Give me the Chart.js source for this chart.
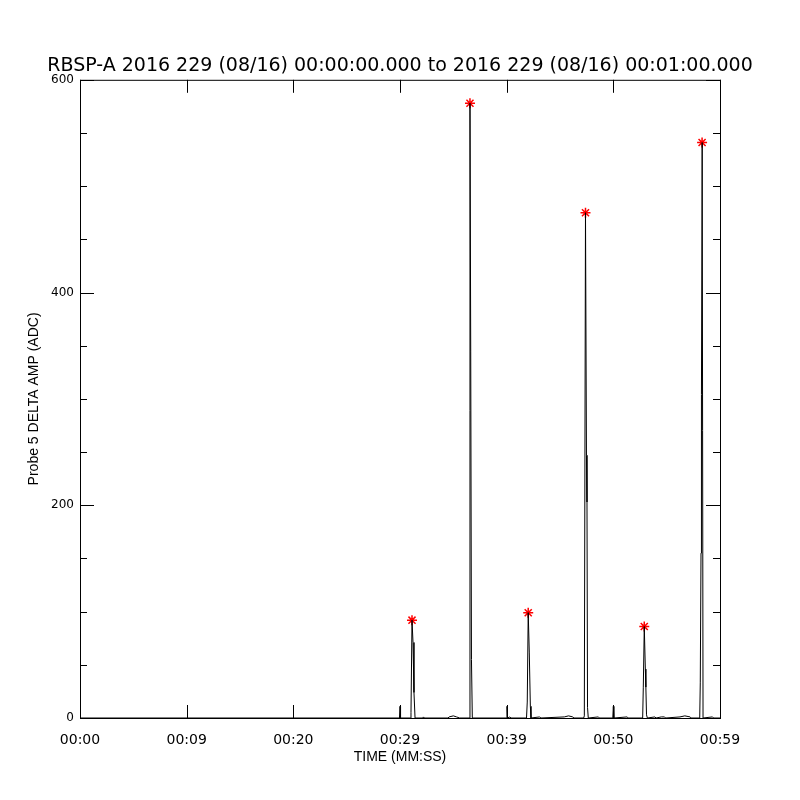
<!DOCTYPE html>
<html>
<head>
<meta charset="utf-8">
<script src="https://cdn.jsdelivr.net/npm/chart.js@4.4.1/dist/chart.umd.min.js"></script>
<style>
  body { margin: 0; background: #fff; }
</style>
</head>
<body>
<canvas id="probeChart" width="800" height="800"></canvas>
<script>
const titleText = "RBSP-A 2016 229 (08/16) 00:00:00.000 to 2016 229 (08/16) 00:01:00.000";
const xTickLabels = ["00:00", "00:09", "00:20", "00:29", "00:39", "00:50", "00:59"];

// seconds from 00:00:00 and probe amplitude (ADC)
const timeSec = [
  0, 29.95, 30.00, 30.05,
  30.97, 31.03, 31.125, 31.22, 31.31, 31.41,
  32.15, 32.2, 32.3,
  34.5, 34.6, 35.0, 35.3, 35.6,
  36.47, 36.56, 36.63, 36.70, 36.78,
  39.98, 40.03, 40.08, 40.3, 40.4,
  41.86, 41.93, 42.02, 42.12, 42.22, 42.28,
  43.1, 43.2,
  45.4, 45.8, 46.2, 46.3,
  47.22, 47.28, 47.39, 47.48, 47.53, 47.58, 47.65,
  48.6, 48.7,
  49.95, 50.00, 50.05,
  51.3, 51.4,
  52.75, 52.81, 52.90, 53.00, 53.05, 53.11, 53.19,
  53.9, 54.0, 54.5, 54.8, 54.9,
  56.25, 56.7, 57.2, 57.3,
  58.10, 58.15, 58.22, 58.26, 58.33, 58.41,
  59.3, 59.4, 60
];
const amplitude = [
  0, 0, 11, 0,
  0, 5, 92, 71, 24, 0,
  0, 1, 0,
  0, 1, 2, 1, 0,
  0, 578, 345, 55, 0,
  0, 11, 0, 1, 0,
  0, 15, 99, 62, 11, 0,
  1, 0,
  1, 2, 1, 0,
  0, 2, 475, 247, 203, 10, 0,
  1, 0,
  0, 11, 0,
  1, 0,
  0, 29, 86, 46, 29, 3, 0,
  1, 0, 1, 1, 0,
  1, 2, 1, 0,
  0, 33, 155, 304, 541, 0,
  1, 0, 0
];

// flagged peaks (red asterisks)
const peakTimes = [31.125, 36.56, 42.02, 47.39, 52.90, 58.32];
const peakAmps = [92, 578, 99, 475, 86, 541];

const linePoints = timeSec.map((t, i) => ({ x: t, y: amplitude[i] }));
const peakPoints = peakTimes.map((t, i) => ({ x: t, y: peakAmps[i] }));

// IDL style box with inward ticks on all four sides
const boxTicks = {
  id: "boxTicks",
  afterDatasetsDraw(chart) {
    const { ctx, chartArea: a, scales } = chart;
    ctx.save();
    ctx.strokeStyle = "#000";
    ctx.lineWidth = 1;
    ctx.strokeRect(a.left + 0.5, a.top + 0.5, a.right - a.left, a.bottom - a.top);
    ctx.beginPath();
    for (let v = 0; v <= 60; v += 10) {
      const px = Math.round(scales.x.getPixelForValue(v)) + 0.5;
      ctx.moveTo(px, a.bottom); ctx.lineTo(px, a.bottom - 13);
      ctx.moveTo(px, a.top); ctx.lineTo(px, a.top + 13);
    }
    for (let v = 0; v <= 600; v += 50) {
      const py = Math.round(scales.y.getPixelForValue(v)) + 0.5;
      const len = v % 200 === 0 ? 14 : 7;
      ctx.moveTo(a.left, py); ctx.lineTo(a.left + len, py);
      ctx.moveTo(a.right, py); ctx.lineTo(a.right - len, py);
    }
    ctx.stroke();
    ctx.restore();
  }
};

const ctx = document.getElementById("probeChart").getContext("2d");
new Chart(ctx, {
  type: "line",
  data: {
    datasets: [
      {
        data: linePoints,
        borderColor: "#000",
        borderWidth: 1,
        pointRadius: 0,
        tension: 0,
        fill: false,
      },
      {
        type: "scatter",
        data: peakPoints,
        pointStyle: "star",
        pointRadius: 5,
        borderColor: "#ff0000",
        backgroundColor: "#ff0000",
        borderWidth: 1.5,
        showLine: false,
      },
    ],
  },
  options: {
    responsive: false,
    animation: false,
    layout: { padding: 0 },
    plugins: {
      legend: { display: false },
      tooltip: { enabled: false },
      title: {
        display: true,
        text: titleText,
        color: "#000",
        font: { family: "DejaVu Sans", size: 19, weight: "normal" },
        padding: { top: 55, bottom: 2 },
      },
    },
    scales: {
      x: {
        type: "linear",
        min: 0,
        max: 60,
        grid: { display: false, drawTicks: false },
        border: { display: false },
        ticks: {
          stepSize: 10,
          autoSkip: false,
          maxRotation: 0,
          padding: 14,
          color: "#000",
          font: { family: "DejaVu Sans", size: 14 },
          callback: (v, i) => xTickLabels[i],
        },
        title: {
          display: true,
          text: "TIME (MM:SS)",
          color: "#000",
          font: { family: "Liberation Sans", size: 14 },
          padding: { top: 0, bottom: 34 },
        },
        afterFit: (s) => { s.height = 82; s.paddingLeft = 0; s.paddingRight = 0; },
      },
      y: {
        min: 0,
        max: 600,
        grid: { display: false, drawTicks: false },
        border: { display: false },
        ticks: {
          stepSize: 200,
          padding: 6,
          color: "#000",
          font: { family: "DejaVu Sans", size: 12 },
        },
        title: {
          display: true,
          text: "Probe 5 DELTA AMP (ADC)",
          color: "#000",
          font: { family: "Liberation Sans", size: 14 },
          padding: { top: 26, bottom: 0 },
        },
        afterFit: (s) => { s.width = 80; s.paddingTop = 0; s.paddingBottom = 0; },
      },
      // empty right margin so the title centres on the page
      yRight: {
        position: "right",
        display: true,
        min: 0,
        max: 600,
        grid: { display: false, drawTicks: false },
        border: { display: false },
        ticks: { display: false },
        afterFit: (s) => { s.width = 80; s.paddingTop = 0; s.paddingBottom = 0; },
      },
    },
  },
  plugins: [boxTicks],
});
</script>
</body>
</html>
